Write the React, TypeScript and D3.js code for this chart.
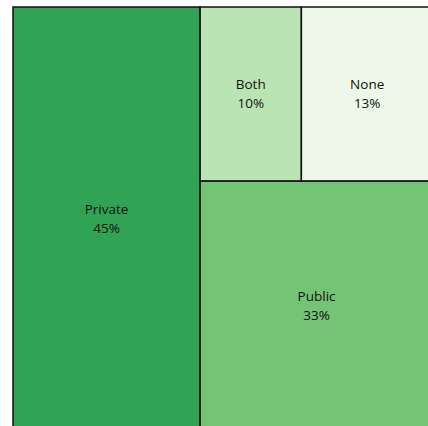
import React from "react";
import * as d3 from "d3";

const categories = ["Private", "Public", "Both", "None"];
const values = [45, 33, 10, 13];
const colors = ["#31a354", "#74c476", "#bae4b3", "#edf8e9"];

const W = 428;
const H = 426;
const X0 = 13;
const Y0 = 7;
const TW = 420;
const TH = 424;

type Leaf = { name: string; value?: number; color?: string; children?: Leaf[] };

export default function App() {
  const leaf = (i: number): Leaf => ({ name: categories[i], value: values[i], color: colors[i] });
  const data: Leaf = {
    name: "root",
    children: [
      leaf(0),
      { name: "rest", children: [{ name: "top", children: [leaf(2), leaf(3)] }, leaf(1)] },
    ],
  };
  const total = d3.sum(values);
  const root = d3.hierarchy<Leaf>(data).sum((d) => (d.children ? 0 : d.value || 0));
  d3.treemap<Leaf>().tile(d3.treemapSliceDice).size([TW, TH]).round(false)(root);
  const leaves = root.leaves() as d3.HierarchyRectangularNode<Leaf>[];

  return (
    <svg width={W} height={H} style={{ position: "absolute", left: 0, top: 0, display: "block" }}>
      <g transform={`translate(${X0},${Y0})`}>
        {leaves.map((n) => {
          const cx = (n.x0 + n.x1) / 2;
          const cy = (n.y0 + n.y1) / 2;
          const pct = Math.round(((n.data.value || 0) / total) * 100);
          return (
            <g key={n.data.name}>
              <rect
                x={n.x0}
                y={n.y0}
                width={n.x1 - n.x0}
                height={n.y1 - n.y0}
                fill={n.data.color}
                stroke="#111"
                strokeWidth={1.5}
              />
              <text
                x={cx}
                y={cy}
                textAnchor="middle"
                fontFamily="'Open Sans', 'DejaVu Sans', sans-serif"
                fontSize={13.5}
                fill="#111"
              >
                <tspan x={cx} dy={-5.5}>{n.data.name}</tspan>
                <tspan x={cx} dy={19}>{pct}%</tspan>
              </text>
            </g>
          );
        })}
      </g>
    </svg>
  );
}
